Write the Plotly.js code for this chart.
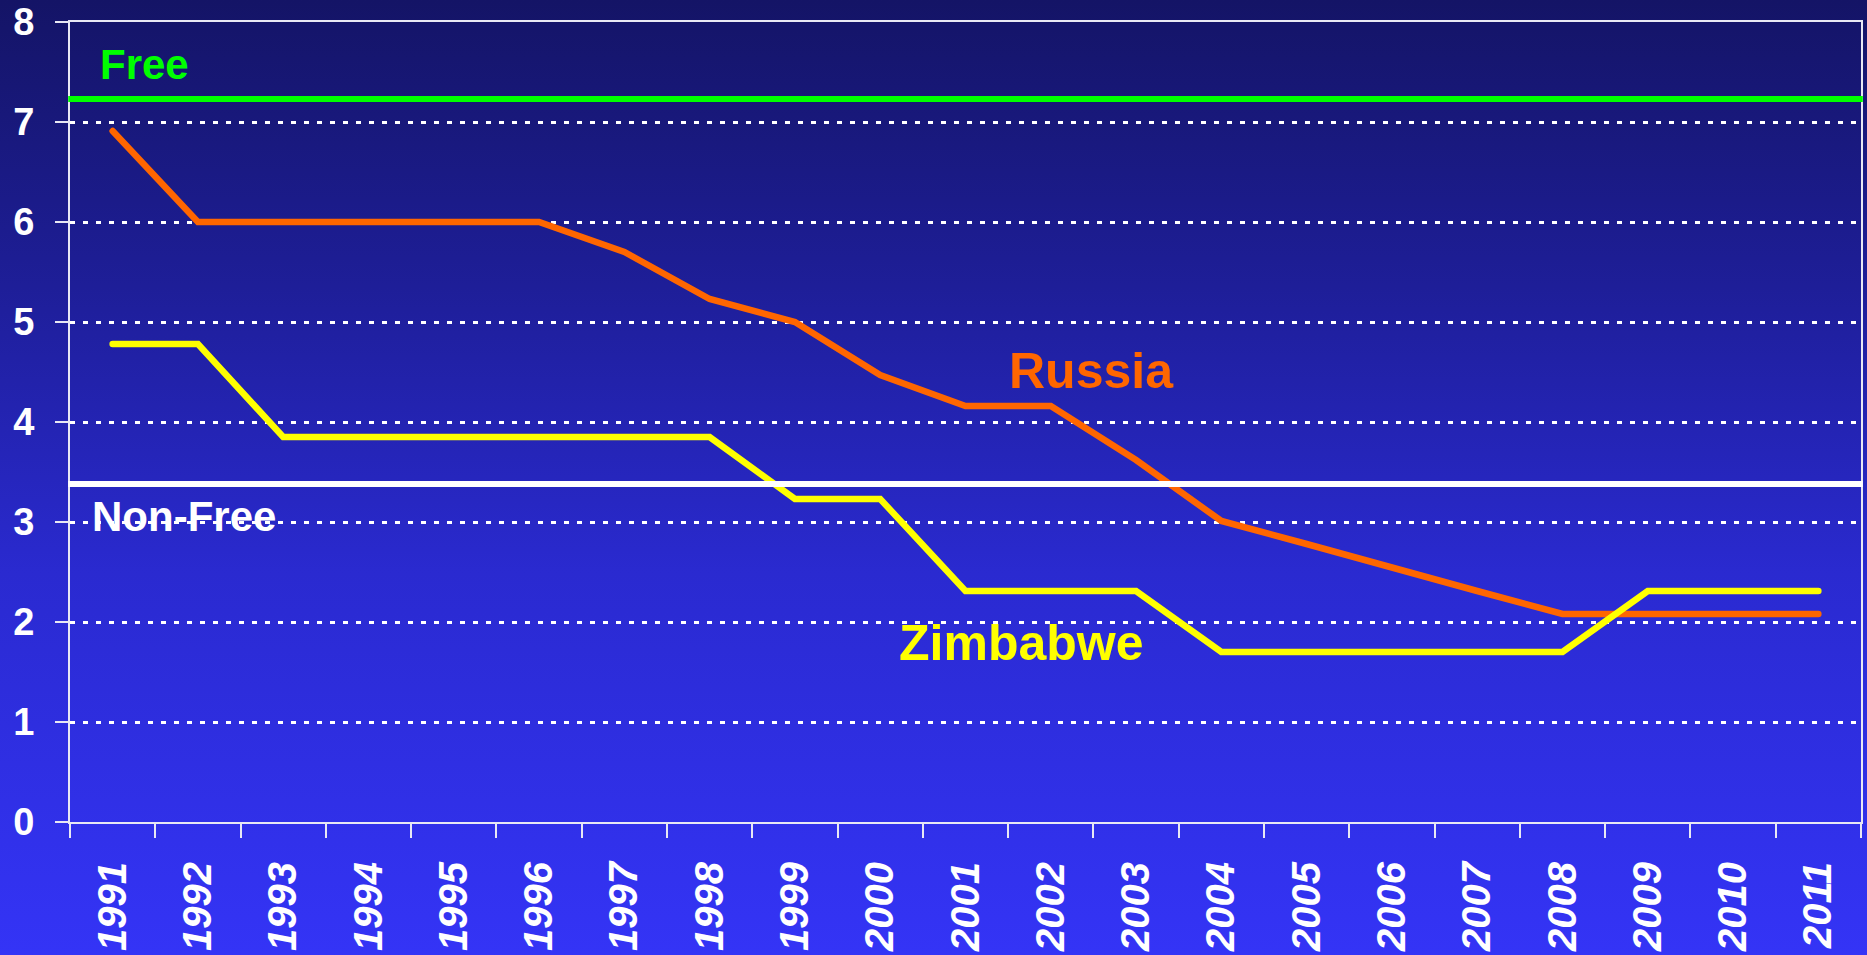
<!DOCTYPE html>
<html>
<head>
<meta charset="utf-8">
<script src="https://cdn.plot.ly/plotly-3.0.1.min.js"></script>
<style>
  html, body { margin: 0; padding: 0; }
  body { width: 1867px; height: 955px; overflow: hidden;
         background: linear-gradient(to bottom, #141466 0%, #1e1e98 30%, #2a2ad0 60%, #3434f6 100%); }
  #chart { width: 1867px; height: 955px; }
  .js-line { stroke-linecap: round !important; }
</style>
</head>
<body>
<div id="chart"></div>
<script>
const years = ["1991","1992","1993","1994","1995","1996","1997","1998","1999","2000",
               "2001","2002","2003","2004","2005","2006","2007","2008","2009","2010","2011"];
const russia = [6.91, 6.0, 6.0, 6.0, 6.0, 6.0, 5.70, 5.23, 5.0, 4.47,
                4.16, 4.16, 3.62, 3.01, 2.78, 2.54, 2.31, 2.08, 2.08, 2.08, 2.08];
const zimbabwe = [4.78, 4.78, 3.85, 3.85, 3.85, 3.85, 3.85, 3.85, 3.23, 3.23,
                  2.31, 2.31, 2.31, 1.70, 1.70, 1.70, 1.70, 1.70, 2.31, 2.31, 2.31];
const freeThreshold = 7.23;
const nonFreeThreshold = 3.38;
const yTicks = [0, 1, 2, 3, 4, 5, 6, 7, 8];

const FONT = '"Liberation Sans", Arial, sans-serif';

const traces = [
  { x: years, y: russia, type: 'scatter', mode: 'lines', name: 'Russia',
    line: { color: '#ff6600', width: 6.5 }, hoverinfo: 'skip' },
  { x: years, y: zimbabwe, type: 'scatter', mode: 'lines', name: 'Zimbabwe',
    line: { color: '#ffff00', width: 6.5 }, hoverinfo: 'skip' }
];

const layout = {
  width: 1867, height: 955,
  margin: { l: 70, r: 6, t: 22, b: 133, pad: 0 },
  paper_bgcolor: 'rgba(0,0,0,0)',
  plot_bgcolor: 'rgba(0,0,0,0)',
  showlegend: false,
  font: { family: FONT, color: 'white' },
  xaxis: {
    type: 'category',
    range: [-0.5, years.length - 0.5],
    tickson: 'boundaries',
    ticks: 'outside', ticklen: 14, tickwidth: 2, tickcolor: '#e8e8f4',
    showline: true, linecolor: '#e8e8f4', linewidth: 2, mirror: true,
    showgrid: false, zeroline: false,
    tickangle: -90,
    ticklabelstandoff: 22,
    tickfont: { family: FONT, size: 40, color: 'white', weight: 'bold', style: 'italic' },
    fixedrange: true
  },
  yaxis: {
    range: [0, 8],
    tickvals: yTicks,
    ticktext: yTicks.map(String),
    ticks: 'outside', ticklen: 13, tickwidth: 2, tickcolor: '#e8e8f4',
    showline: true, linecolor: '#e8e8f4', linewidth: 2, mirror: true,
    showgrid: true, gridcolor: 'white', gridwidth: 3, griddash: '5px,8px',
    zeroline: false,
    tickfont: { family: FONT, size: 38, color: 'white', weight: 'bold' },
    ticklabelstandoff: 13,
    fixedrange: true
  },
  shapes: [
    { type: 'line', xref: 'paper', yref: 'y', x0: -0.001, x1: 1.001,
      y0: freeThreshold, y1: freeThreshold, line: { color: '#00ff00', width: 6 } },
    { type: 'line', xref: 'paper', yref: 'y', x0: -0.001, x1: 1.001,
      y0: nonFreeThreshold, y1: nonFreeThreshold, line: { color: 'white', width: 6 } }
  ],
  annotations: [
    { text: 'Free', xref: 'paper', yref: 'y', x: 0.0156, y: 7.58, xanchor: 'left', yanchor: 'middle',
      showarrow: false, font: { family: FONT, size: 42, color: '#00ff00', weight: 'bold' } },
    { text: 'Non-Free', xref: 'paper', yref: 'y', x: 0.0112, y: 3.06, xanchor: 'left', yanchor: 'middle',
      showarrow: false, font: { family: FONT, size: 42, color: 'white', weight: 'bold' } },
    { text: 'Russia', xref: 'paper', yref: 'y', x: 0.523, y: 4.51, xanchor: 'left', yanchor: 'middle',
      showarrow: false, font: { family: FONT, size: 50, color: '#ff6600', weight: 'bold' } },
    { text: 'Zimbabwe', xref: 'paper', yref: 'y', x: 0.4618, y: 1.79, xanchor: 'left', yanchor: 'middle',
      showarrow: false, font: { family: FONT, size: 50, color: '#ffff00', weight: 'bold' } }
  ]
};

Plotly.newPlot('chart', traces, layout, { displayModeBar: false, staticPlot: true });
</script>
</body>
</html>
